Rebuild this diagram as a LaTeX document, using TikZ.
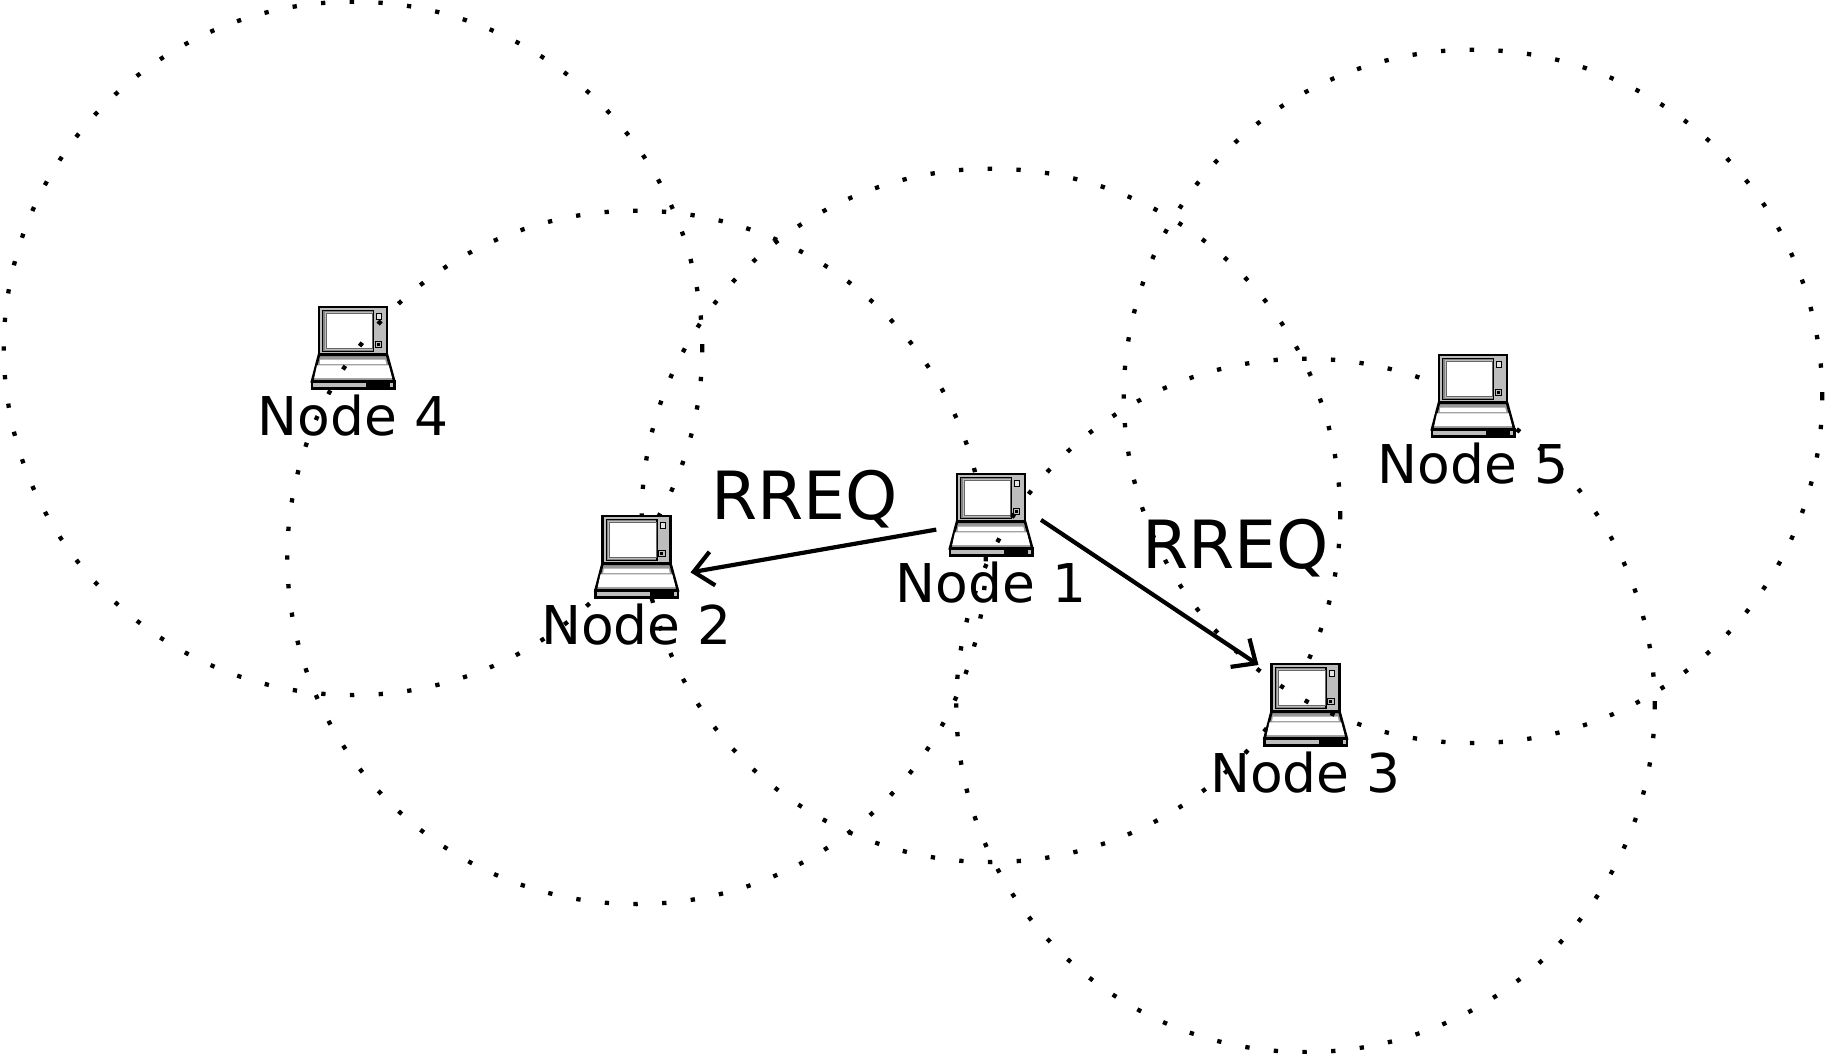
\documentclass[tikz,border=0pt]{standalone}
\usepackage{fontspec}
\setmainfont{DejaVu Sans}
\usetikzlibrary{positioning,arrows.meta}
\definecolor{lapgray}{gray}{0.74}
\tikzset{
  lapbox/.style={anchor=north,minimum width=0.826cm,minimum height=0.813cm,inner sep=0pt},
  reach/.style={line width=0.043cm,dash pattern=on 0.043cm off 0.244cm,x radius=3.49cm,y radius=3.465cm},
  rreq/.style={line width=0.042cm,-{Straight Barb[length=0.19cm,width=0.34cm,line width=0.042cm]}},
  nodelabel/.style={inner sep=0pt,font=\fontsize{15.2}{18}\selectfont},
  rreqlabel/.style={inner sep=0pt,anchor=base,font=\fontsize{18.9}{22}\selectfont},
  lapline/.style={line width=0.026cm,line join=miter},
  pics/laptop/.style={code={
    % base and keyboard
    \draw[lapline,fill=lapgray!80!black] (-34,47.7) -- (34,47.7) -- (41.3,74.3) -- (-41,74.3) -- cycle;
    \fill[white] (-32.7,52.7) -- (32.3,52.7) -- (33.3,57) -- (-33.3,57) -- cycle;
    \fill[white] (-36,58.3) -- (35.7,58.3) -- (39,71) -- (-38.7,71) -- cycle;
    \draw[lapline,fill=lapgray] (-41,74.3) rectangle (41.3,81.3);
    \fill[black] (13,74.3) rectangle (37.3,81.3);
    % screen
    \draw[lapline,fill=lapgray] (-34,0) rectangle (34,47.7);
    \draw[line width=0.012cm,fill=lapgray!70!black] (-30.3,3.3) rectangle (20.5,44.3);
    \fill[lapgray] (-28.5,5) rectangle (19.7,42.7);
    \draw[line width=0.008cm,draw=black!60,fill=white] (-27,6.7) rectangle (19.7,41);
    \draw[line width=0.008cm,fill=lapgray!40] (23.4,6.7) rectangle (28.7,12);
    \draw[line width=0.008cm,fill=lapgray] (22,34) rectangle (28.7,40.7);
    \fill[black] (23.8,35.8) rectangle (26.8,38.8);
  }}
}
\begin{document}
\begin{tikzpicture}[x=0.01cm,y=-0.01cm]
\useasboundingbox (0,0) rectangle (1826,1053);
\node[lapbox] (lap1) at (991,474) {};
\node[lapbox] (lap2) at (636.5,516) {};
\node[lapbox] (lap3) at (1305.5,664) {};
\node[lapbox] (lap4) at (353,307) {};
\node[lapbox] (lap5) at (1473,355) {};

% some laptops hide the dots of a range, some do not
\pic at (lap4.north) {laptop};
\draw[reach] (lap1.center) circle [];
\draw[reach] (lap2.center) circle [];
\draw[reach] (lap4.center) circle [];
\pic at (lap2.north) {laptop};
\pic at (lap3.north) {laptop};
\pic at (lap1.north) {laptop};
\draw[reach] (lap3.center) circle [];
\pic at (lap5.north) {laptop};
\draw[reach] (lap5.center) circle [];

\node[nodelabel,below=0.04cm of lap1] (label1) {Node 1};
\node[nodelabel,below=0.04cm of lap2] (label2) {Node 2};
\node[nodelabel,below=0.04cm of lap3] (label3) {Node 3};
\node[nodelabel,below=0.04cm of lap4] (label4) {Node 4};
\node[nodelabel,below=0.04cm of lap5] (label5) {Node 5};

\node[rreqlabel] (rreq1) at (804.5,519) {RREQ};
\node[rreqlabel] (rreq2) at (1235.5,568) {RREQ};

\draw[rreq] ([shift={(-12.7,14.2)}]lap1.west) -- ([shift={(12,15)}]lap2.east);
\draw[rreq] ([shift={(8,4.5)}]lap1.east) -- ([shift={(-5,1)}]lap3.north west);
\end{tikzpicture}
\end{document}
